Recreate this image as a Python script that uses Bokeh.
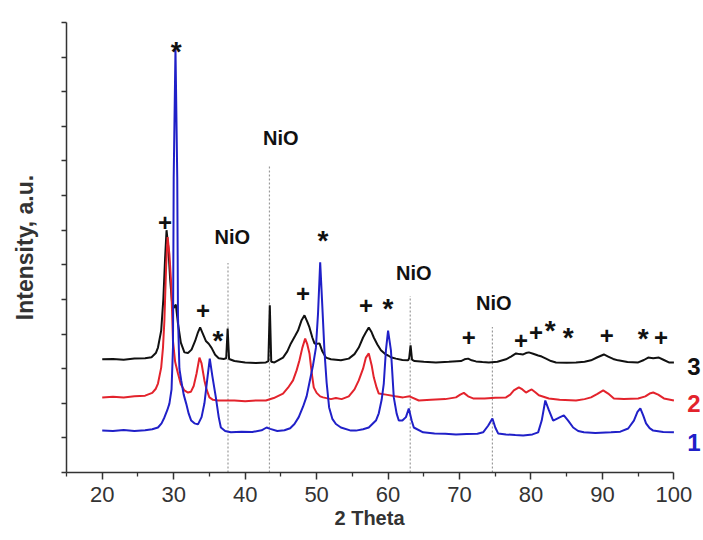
from bokeh.plotting import figure
from bokeh.models import Range1d, FixedTicker, Title
from bokeh.embed import file_html
from bokeh.resources import INLINE
from bokeh.core.properties import value

# ---- data (2 Theta, intensity in tick units) ----
theta_1 = [20.0, 21.5, 23.0, 24.5, 26.0, 27.0, 27.8, 28.3, 28.7, 29.1, 29.4, 29.7, 29.9, 30.0,
           30.25, 30.5, 30.6, 30.8, 31.05, 31.4, 31.75, 32.1, 32.45, 32.9, 33.4, 33.9, 34.3,
           34.7, 35.05, 35.4, 35.9, 36.3, 36.6, 37.2, 38.0, 39.5, 41.0, 42.3, 43.0, 43.5, 44.5,
           45.5, 46.3, 46.9, 47.5, 48.1, 48.6, 49.0, 49.5, 49.9, 50.2, 50.5, 50.8, 51.1, 51.4,
           51.75, 52.2, 52.7, 53.4, 54.8, 55.5, 56.5, 57.3, 58.3, 58.7, 59.1, 59.4, 59.7, 60.0,
           60.4, 60.8, 61.2, 61.5, 62.0, 62.5, 62.9, 63.3, 63.6, 64.9, 66.5, 68.0, 69.5, 71.0,
           72.5, 73.3, 74.0, 74.6, 75.0, 75.4, 76.5, 77.8, 78.9, 80.2, 81.0, 81.5, 82.0, 82.5,
           83.1, 83.6, 84.0, 84.6, 85.2, 85.9, 86.6, 87.4, 89.0, 91.2, 92.5, 93.6, 94.4, 94.9,
           95.3, 95.7, 96.1, 96.6, 97.1, 98.5, 100.0]
inten_1 = [1.21, 1.20, 1.23, 1.20, 1.22, 1.25, 1.30, 1.42, 1.59, 1.80, 1.99, 2.40, 3.6, 8.5,
           12.25, 8.5, 4.5, 3.0, 2.66, 2.25, 1.99, 1.70, 1.50, 1.42, 1.39, 1.6, 2.0,
           2.7, 3.29, 2.8, 2.17, 1.6, 1.30, 1.20, 1.16, 1.18, 1.17, 1.22, 1.30, 1.26, 1.20,
           1.22, 1.28, 1.40, 1.60, 1.90, 2.20, 2.6, 3.1, 3.6, 4.6, 6.07, 4.8, 3.5, 2.6,
           1.88, 1.55, 1.40, 1.30, 1.21, 1.21, 1.25, 1.30, 1.50, 1.71, 2.1, 2.57, 3.53, 4.10,
           3.53, 2.17, 1.70, 1.50, 1.50, 1.60, 1.85, 1.50, 1.30, 1.16, 1.13, 1.12, 1.10, 1.11,
           1.12, 1.16, 1.35, 1.56, 1.30, 1.13, 1.10, 1.08, 1.07, 1.10, 1.16, 1.50, 2.08, 1.80,
           1.50, 1.55, 1.59, 1.65, 1.50, 1.30, 1.20, 1.16, 1.14, 1.16, 1.18, 1.27, 1.50, 1.75,
           1.85, 1.65, 1.42, 1.28, 1.21, 1.17, 1.16]

theta_2 = [20.0, 21.5, 23.0, 24.5, 26.0, 27.0, 27.5, 27.8, 28.25, 28.5, 28.7, 28.95, 29.15,
           29.4, 29.65, 29.9, 30.2, 30.6, 31.0, 31.5, 32.0, 32.4, 32.8, 33.2, 33.6, 33.9, 34.3,
           34.6, 35.0, 35.5, 36.2, 37.3, 38.5, 40.0, 41.5, 42.9, 44.0, 45.3, 46.0, 46.7, 47.2,
           47.6, 48.0, 48.4, 48.7, 49.0, 49.3, 49.6, 50.0, 50.5, 50.9, 52.0, 52.7, 53.5, 54.5,
           55.3, 55.9, 56.5, 56.9, 57.3, 57.7, 58.0, 58.4, 58.7, 59.7, 61.0, 62.1, 63.0, 64.3,
           66.0, 68.0, 69.5, 70.1, 70.6, 71.2, 71.9, 73.5, 75.0, 76.5, 77.1, 77.6, 78.3, 78.8,
           79.3, 79.7, 80.1, 80.6, 81.1, 82.5, 84.0, 86.3, 87.5, 88.4, 89.3, 90.1, 90.8, 91.6,
           93.0, 95.0, 96.0, 96.6, 97.1, 97.8, 98.6, 100.0]
inten_2 = [2.17, 2.19, 2.17, 2.20, 2.22, 2.30, 2.42, 2.57, 3.03, 3.6, 4.39, 6.0, 6.8,
           6.3, 5.46, 3.8, 3.2, 2.86, 2.55, 2.37, 2.31, 2.33, 2.5, 2.86, 3.32, 3.15, 2.66,
           2.4, 2.17, 2.1, 2.08, 2.08, 2.08, 2.06, 2.08, 2.08, 2.15, 2.28, 2.45, 2.66, 2.95,
           3.24, 3.6, 3.87, 3.7, 3.44, 2.9, 2.46, 2.3, 2.2, 2.17, 2.12, 2.15, 2.12, 2.2,
           2.4, 2.66, 3.0, 3.32, 3.44, 3.1, 2.75, 2.45, 2.28, 2.25, 2.2, 2.17, 2.2, 2.08,
           2.1, 2.12, 2.17, 2.25, 2.30, 2.2, 2.14, 2.14, 2.16, 2.17, 2.25, 2.37, 2.46, 2.4,
           2.31, 2.36, 2.4, 2.32, 2.23, 2.14, 2.1, 2.08, 2.12, 2.17, 2.27, 2.37, 2.28, 2.14,
           2.12, 2.14, 2.2, 2.28, 2.31, 2.25, 2.14, 2.08]

theta_3 = [20.0, 21.5, 23.0, 24.5, 26.0, 26.9, 27.5, 27.8, 28.25, 28.55, 28.8, 29.0, 29.25,
           29.5, 29.75, 30.0, 30.3, 30.6, 31.0, 31.5, 32.0, 32.5, 33.0, 33.4, 33.7, 34.1, 34.5,
           34.9, 35.3, 35.8, 36.3, 37.0, 37.35, 37.55, 37.75, 38.5, 40.0, 41.5, 42.9, 43.25,
           43.45, 43.65, 44.1, 45.3, 45.9, 46.4, 47.0, 47.4, 47.9, 48.3, 48.7, 49.0, 49.4, 49.7,
           50.1, 50.4, 50.8, 51.3, 52.0, 53.4, 54.5, 55.3, 55.9, 56.5, 56.9, 57.3, 57.7, 58.0,
           58.5, 59.0, 59.6, 60.0, 60.5, 61.1, 62.0, 62.8, 62.95, 63.15, 63.35, 63.7, 65.0,
           66.7, 68.5, 70.2, 70.7, 71.2, 71.7, 72.3, 73.2, 74.1, 75.3, 76.5, 77.2, 77.9, 78.4,
           78.9, 79.3, 79.7, 80.3, 81.0, 81.5, 82.1, 82.8, 83.5, 85.0, 86.3, 87.5, 88.4, 89.3,
           90.2, 90.8, 91.5, 92.2, 93.5, 95.0, 95.8, 96.4, 97.1, 97.9, 98.6, 99.3, 100.0]
inten_3 = [3.27, 3.28, 3.26, 3.29, 3.30, 3.33, 3.45, 3.61, 4.1, 5.0, 6.2, 7.0, 6.5,
           5.6, 4.95, 4.75, 4.85, 4.3, 3.75, 3.47, 3.45, 3.55, 3.8, 4.05, 4.19, 4.0, 3.8,
           3.72, 3.6, 3.4, 3.3, 3.28, 3.3, 4.16, 3.28, 3.22, 3.18, 3.16, 3.18, 3.22,
           4.83, 3.2, 3.18, 3.32, 3.5, 3.73, 3.95, 4.1, 4.4, 4.54, 4.35, 4.19, 3.9, 3.73,
           3.72, 3.73, 3.5, 3.32, 3.27, 3.24, 3.29, 3.42, 3.61, 3.9, 4.05, 4.19, 4.05, 3.9,
           3.7, 3.53, 3.42, 3.38, 3.32, 3.29, 3.25, 3.24, 3.3, 3.67, 3.26, 3.22, 3.2,
           3.18, 3.2, 3.22, 3.27, 3.29, 3.24, 3.21, 3.19, 3.18, 3.2, 3.27, 3.35, 3.44, 3.42,
           3.41, 3.45, 3.47, 3.43, 3.38, 3.35, 3.29, 3.22, 3.18, 3.17, 3.18, 3.2, 3.24, 3.33,
           3.41, 3.35, 3.28, 3.24, 3.19, 3.18, 3.25, 3.32, 3.30, 3.32, 3.25, 3.18, 3.18]

x_ticks = [20, 30, 40, 50, 60, 70, 80, 90, 100]
x_minor = [15, 25, 35, 45, 55, 65, 75, 85, 95]
y_tick_marks = [0, 1, 2, 3, 4, 5, 6, 7, 8, 9, 10, 11, 12, 13]

nio_pos = [37.6, 43.4, 63.1, 74.6]
nio_top = [6.05, 8.85, 5.1, 4.2]
nio_label_x = [38.2, 45.0, 63.6, 74.8]
nio_label_y = [6.79, 9.65, 5.75, 4.91]
nio_text = ["NiO", "NiO", "NiO", "NiO"]

plus_x = [28.8, 34.1, 48.1, 56.9, 71.3, 78.6, 80.7, 90.6, 98.2]
plus_y = [7.23, 4.68, 5.17, 4.83, 3.9, 3.82, 4.05, 3.96, 3.9]
star_x = [30.35, 36.2, 50.9, 60.0, 82.7, 85.2, 95.7]
star_y = [12.4, 4.05, 6.94, 4.97, 4.34, 4.13, 4.1]

series_names = ["3", "2", "1"]
series_label_x = [102.8, 102.8, 102.8]
series_label_y = [3.05, 1.99, 0.87]
series_colors = ["#111111", "#e3232c", "#2020c8"]

FONT = "Liberation Sans"

p = figure(width=702, height=535, output_backend="svg", toolbar_location=None,
           x_range=Range1d(15, 104), y_range=Range1d(0, 13),
           min_border_left=66, min_border_right=0, min_border_top=22, min_border_bottom=63,
           y_axis_label="Intensity, a.u.")
p.outline_line_color = None
p.xgrid.visible = False
p.ygrid.visible = False

for ax in (p.xaxis, p.yaxis):
    ax.axis_line_color = "#333333"
    ax.axis_line_width = 1.5
    ax.major_tick_line_color = "#333333"
    ax.minor_tick_line_color = "#333333"
    ax.major_tick_line_width = 1.5
    ax.minor_tick_line_width = 1.3
    ax.major_tick_in = 0
    ax.minor_tick_in = 0
    ax.major_tick_out = 7
    ax.minor_tick_out = 4
    ax.axis_label_text_font = FONT
    ax.axis_label_text_font_style = "bold"
    ax.axis_label_text_color = "#333333"
    ax.major_label_text_font = FONT
    ax.major_label_text_color = "#333333"

p.xaxis.bounds = (15, 100)
p.xaxis.ticker = FixedTicker(ticks=x_ticks, minor_ticks=x_minor)
p.xaxis.major_label_text_font_size = "22px"
p.xaxis.major_label_standoff = 7

# x axis title, centred under the 15-100 axis line
p.add_layout(Title(text="2 Theta", align="left", offset=268, standoff=0,
                   text_font=FONT, text_font_style="bold", text_font_size="20px",
                   text_color="#333333"), "below")

# y axis: unlabeled tick marks only
p.yaxis.ticker = FixedTicker(ticks=[], minor_ticks=y_tick_marks)
p.yaxis.minor_tick_out = 5
p.yaxis.axis_label_text_font_size = "23px"
p.yaxis.axis_label_standoff = 24

# NiO reference lines
p.segment(x0=nio_pos, y0=[0] * len(nio_pos), x1=nio_pos, y1=nio_top,
          line_color="#9a9a9a", line_width=1.2, line_dash="2 2")

# curves
p.line(theta_3, inten_3, line_color=series_colors[0], line_width=2)
p.line(theta_2, inten_2, line_color=series_colors[1], line_width=2)
p.line(theta_1, inten_1, line_color=series_colors[2], line_width=2)

# phase markers
p.text(x=nio_label_x, y=nio_label_y, text=nio_text, text_font=value(FONT),
       text_font_style="bold", text_font_size="20px", text_color="#111111",
       text_align="center", text_baseline="middle")
p.text(x=plus_x, y=plus_y, text=["+"] * len(plus_x), text_font=value(FONT),
       text_font_style="bold", text_font_size="24px", text_color="#111111",
       text_align="center", text_baseline="middle")
p.text(x=star_x, y=star_y, text=["*"] * len(star_x), text_font=value(FONT),
       text_font_style="bold", text_font_size="28px", text_color="#111111",
       text_align="center", text_baseline="middle", y_offset=8)

# curve numbers
p.text(x=series_label_x, y=series_label_y, text=series_names, text_font=value(FONT),
       text_font_style="bold", text_font_size="24px", text_color=series_colors,
       text_align="center", text_baseline="middle")

open("out.html", "w").write(file_html(p, INLINE))
